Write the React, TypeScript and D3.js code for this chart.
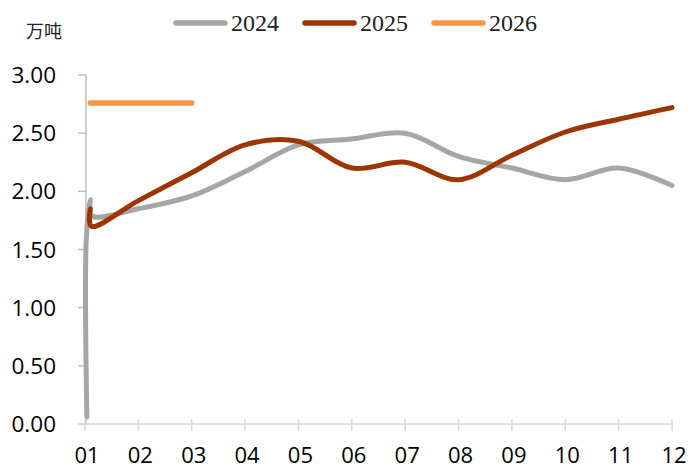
import React from 'react';
import * as d3 from 'd3';

// month position (01..12, fractional for the early January points) and value, 万吨
const months2024 = [1.035, 1.025, 1.1, 1.12, 2, 3, 4, 5, 6, 7, 8, 9, 10, 11, 12];
const values2024 = [0.06, 1.6, 1.93, 1.79, 1.85, 1.96, 2.17, 2.4, 2.45, 2.5, 2.3, 2.2, 2.1, 2.2, 2.05];
const months2025 = [1.1, 1.12, 2, 3, 4, 5, 6, 7, 8, 9, 10, 11, 12];
const values2025 = [1.85, 1.7, 1.92, 2.16, 2.4, 2.43, 2.2, 2.25, 2.1, 2.31, 2.51, 2.62, 2.72];
const months2026 = [1.1, 2, 3];
const values2026 = [2.76, 2.76, 2.76];

const xTickLabels = ['01', '02', '03', '04', '05', '06', '07', '08', '09', '10', '11', '12'];
const yTicks = [0, 0.5, 1, 1.5, 2, 2.5, 3];

const seriesNames = ['2024', '2025', '2026'];
const seriesColors = ['#a6a6a6', '#9c3500', '#f79646'];

const width = 688;
const height = 469;
const sansFont = '"Open Sans", "Liberation Sans", sans-serif';

export default function App() {
    const x = d3.scaleLinear().domain([1, 12]).range([85, 672]);
    const y = d3.scaleLinear().domain([0, 3]).range([424, 75]);

    const line = d3.line<[number, number]>()
        .x(d => x(d[0]))
        .y(d => y(d[1]))
        .curve(d3.curveCatmullRom.alpha(0.5));

    const straight = d3.line<[number, number]>()
        .x(d => x(d[0]))
        .y(d => y(d[1]));

    const zip = (a: number[], b: number[]) => a.map((m, i) => [m, b[i]] as [number, number]);

    const series = [
        { d: line(zip(months2024, values2024)), color: seriesColors[0], w: 5 },
        { d: line(zip(months2025, values2025)), color: seriesColors[1], w: 5 },
        { d: straight(zip(months2026, values2026)), color: seriesColors[2], w: 5.5 },
    ];

    // legend layout
    const legendX = [173, 302, 431];

    return (
        <svg width={width} height={height} style={{ position: 'absolute', left: 0, top: 0, background: '#fff' }}>
            {/* unit */}
            <text x={44} y={38} fontSize={18} textAnchor="middle" fontFamily='"Noto Sans CJK SC", sans-serif' fill="#222">万吨</text>

            {/* y axis */}
            <line x1={86} x2={86} y1={y(3)} y2={y(0)} stroke="#bfbfbf" strokeWidth={1.5} />
            {yTicks.map(t => (
                <g key={t}>
                    <line x1={78} x2={86} y1={y(t)} y2={y(t)} stroke="#bfbfbf" strokeWidth={1.5} />
                    <text x={56} y={y(t) + 8} fontSize={22.5} textAnchor="end" fontFamily={sansFont} fill="#000">
                        {t.toFixed(2)}
                    </text>
                </g>
            ))}

            {/* x axis */}
            <line x1={78} x2={x(12)} y1={y(0)} y2={y(0)} stroke="#d9d9d9" strokeWidth={1.5} />
            {xTickLabels.map((lab, i) => (
                <g key={lab}>
                    <line x1={x(i + 1)} x2={x(i + 1)} y1={y(0) - 5} y2={y(0) + 7} stroke="#d9d9d9" strokeWidth={1.5} />
                    <text x={x(i + 1) + 2} y={463} fontSize={22} textAnchor="middle" fontFamily={sansFont} fill="#000">
                        {lab}
                    </text>
                </g>
            ))}

            {/* series */}
            {series.map((s, i) => (
                <path key={i} d={s.d || ''} fill="none" stroke={s.color} strokeWidth={s.w}
                    strokeLinecap="round" strokeLinejoin="round" />
            ))}

            {/* legend */}
            {seriesNames.map((name, i) => (
                <g key={name}>
                    <line x1={legendX[i] + 3} x2={legendX[i] + 52} y1={23} y2={23} stroke={seriesColors[i]}
                        strokeWidth={5.5} strokeLinecap="round" />
                    <text x={legendX[i] + 58} y={31} fontSize={24} fontFamily='"Liberation Serif", serif' fill="#222">
                        {name}
                    </text>
                </g>
            ))}
        </svg>
    );
}
